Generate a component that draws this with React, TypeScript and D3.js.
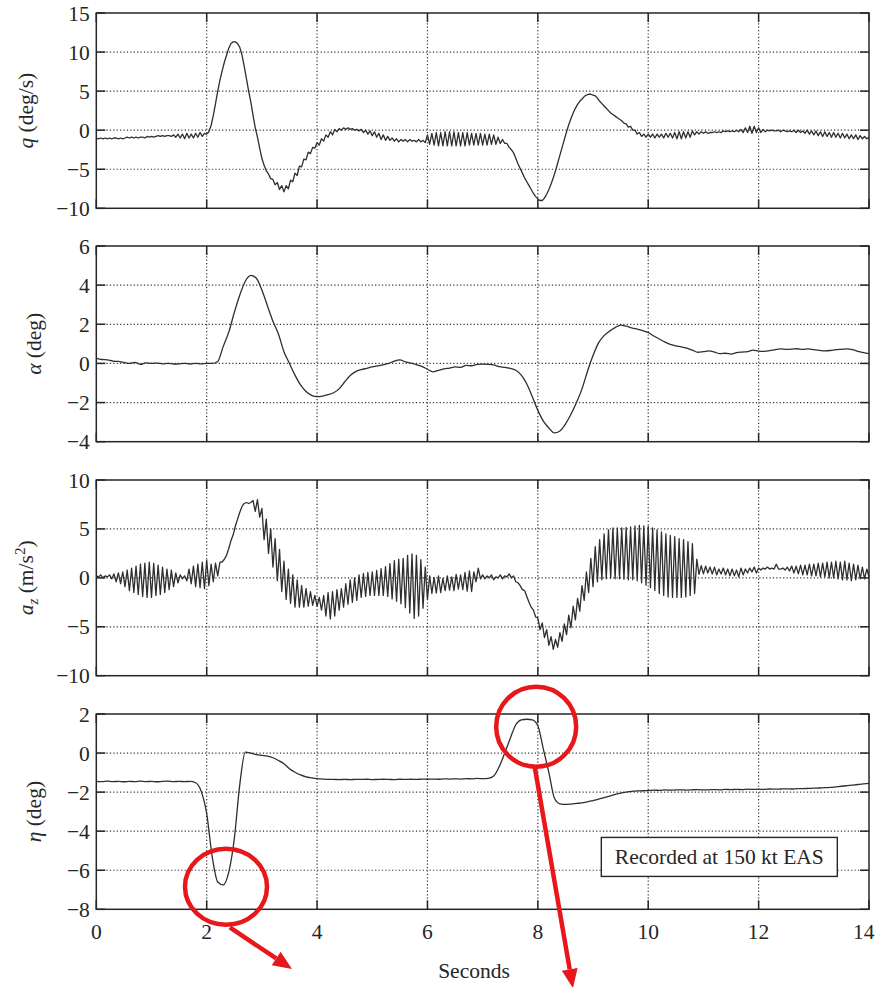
import React from "react";
import * as d3 from "d3";

// ---------------- DATA ----------------
const X_TICKS = [0, 2, 4, 6, 8, 10, 12, 14];
const Q_TICKS = [-10, -5, 0, 5, 10, 15];
const ALPHA_TICKS = [-4, -2, 0, 2, 4, 6];
const AZ_TICKS = [-10, -5, 0, 5, 10];
const ETA_TICKS = [-8, -6, -4, -2, 0, 2];

// q (deg/s): one row per second, 25 samples per row (every 0.04 s)
const Q_ROWS = [
  "-1.0 -1.1 -1.0 -1.1 -1.0 -1.1 -1.0 -1.1 -1.0 -1.0 -1.1 -1.0 -1.1 -1.0 -0.9 -1.0 -0.9 -1.0 -0.9 -1.0 -0.9 -0.9 -1.0 -0.8 -0.9",
  "-0.8 -0.9 -0.8 -0.7 -0.8 -0.7 -0.8 -0.7 -0.7 -0.8 -0.6 -0.9 -0.5 -1.0 -0.5 -1.1 -0.4 -1.0 -0.5 -1.0 -0.4 -0.9 -0.3 -0.8 -0.4",
  "-0.5 -0.2 0.6 1.9 3.4 5.0 6.4 7.6 8.7 9.6 10.5 11.1 11.3 11.3 11.1 10.6 9.6 8.2 6.6 5.0 3.6 1.9 0.3 -0.9 -2.3",
  "-3.6 -4.5 -5.2 -5.6 -6.2 -6.3 -7.0 -6.7 -7.6 -7.1 -7.9 -7.1 -7.5 -6.4 -6.6 -5.5 -5.8 -4.6 -4.7 -3.7 -3.8 -2.8 -3.0 -2.2 -2.3",
  "-1.6 -1.9 -1.1 -1.4 -0.6 -0.9 -0.2 -0.6 0.1 -0.2 0.2 0.0 0.3 0.1 0.3 0.1 0.2 0.0 0.1 -0.1 0.1 -0.3 0.0 -0.5 -0.1",
  "-0.7 -0.2 -0.9 -0.4 -1.2 -0.6 -1.3 -0.8 -1.3 -1.0 -1.4 -1.1 -1.5 -1.2 -1.4 -1.2 -1.5 -1.2 -1.4 -1.3 -1.5 -1.2 -1.5 -1.3 -1.6",
  "-0.6 -1.8 -0.4 -1.9 -0.3 -2.0 -0.3 -2.0 -0.2 -2.0 -0.2 -2.0 -0.2 -2.0 -0.3 -2.0 -0.3 -2.0 -0.3 -1.9 -0.4 -1.9 -0.4 -1.9 -0.4",
  "-1.9 -0.5 -1.9 -0.5 -1.8 -0.6 -1.8 -0.9 -1.7 -1.2 -1.7 -1.7 -2.2 -2.5 -2.9 -3.6 -4.3 -4.9 -5.5 -6.1 -6.6 -7.1 -7.6 -8.1 -8.5",
  "-8.8 -9.0 -9.0 -8.7 -8.2 -7.6 -6.9 -6.1 -5.2 -4.2 -3.2 -2.2 -1.2 -0.2 0.7 1.5 2.2 2.8 3.3 3.7 4.0 4.3 4.5 4.6 4.6",
  "4.5 4.4 4.1 3.7 3.4 3.1 2.8 2.5 2.2 2.0 1.8 1.6 1.4 1.2 0.9 0.8 0.4 0.5 0.0 0.0 -0.5 -0.3 -0.8 -0.5 -0.9",
  "-0.5 -0.9 -0.5 -1.0 -0.5 -0.9 -0.5 -1.0 -0.4 -0.9 -0.4 -1.0 -0.3 -1.1 -0.2 -1.1 -0.2 -1.0 -0.2 -0.9 -0.1 -0.6 -0.2 -0.5 -0.2",
  "-0.4 -0.2 -0.4 -0.3 -0.3 -0.2 -0.3 -0.2 -0.3 -0.1 -0.2 -0.1 -0.2 -0.1 -0.2 0.0 -0.2 0.1 -0.3 0.3 -0.3 0.5 -0.4 0.5 -0.3",
  "0.3 -0.3 0.1 -0.2 0.0 -0.1 0.0 -0.1 -0.1 0.0 -0.2 0.0 -0.1 -0.2 -0.1 -0.2 0.0 -0.3 0.0 -0.3 -0.1 -0.4 0.0 -0.5 -0.1",
  "-0.6 -0.1 -0.7 -0.2 -0.8 -0.2 -0.8 -0.3 -0.9 -0.3 -0.9 -0.4 -1.0 -0.4 -1.0 -0.5 -1.1 -0.6 -1.1 -0.6 -1.2 -0.7 -1.1 -0.8 -1.1",
];
const Q_END = -0.9;

// alpha (deg): one row per second, 10 samples per row (every 0.1 s)
const ALPHA_ROWS = [
  "0.26 0.2 0.18 0.12 0.1 0.05 0.0 0.05 -0.05 0.03",
  "0.0 0.02 -0.02 0.0 -0.03 -0.02 0.0 -0.03 0.0 -0.02",
  "0.0 0.0 0.1 0.87 1.6 2.6 3.5 4.2 4.5 4.35",
  "3.75 2.95 2.15 1.5 0.6 0.0 -0.6 -1.1 -1.43 -1.63",
  "-1.7 -1.67 -1.6 -1.5 -1.3 -0.95 -0.62 -0.42 -0.32 -0.25",
  "-0.18 -0.12 -0.07 0.0 0.12 0.18 0.08 0.02 -0.06 -0.15",
  "-0.3 -0.43 -0.35 -0.28 -0.24 -0.18 -0.2 -0.1 -0.12 -0.05",
  "-0.04 -0.05 -0.08 -0.16 -0.2 -0.25 -0.35 -0.6 -1.05 -1.7",
  "-2.4 -2.95 -3.3 -3.55 -3.45 -3.1 -2.6 -2.0 -1.3 -0.4",
  "0.4 1.05 1.42 1.65 1.83 1.96 1.9 1.82 1.75 1.68",
  "1.58 1.4 1.25 1.1 0.97 0.9 0.85 0.78 0.68 0.57",
  "0.6 0.64 0.58 0.5 0.52 0.48 0.55 0.58 0.6 0.68",
  "0.63 0.62 0.65 0.7 0.74 0.72 0.73 0.75 0.72 0.74",
  "0.7 0.67 0.64 0.66 0.7 0.72 0.74 0.7 0.62 0.55",
];
const ALPHA_END = 0.5;

// a_z (m/s^2): one row per second, 25 samples per row (every 0.04 s)
const AZ_ROWS = [
  "0.2 0.1 0.3 0.0 0.2 0.1 0.3 -0.1 0.4 -0.4 0.5 -0.6 0.6 -0.9 0.8 -1.3 1.0 -1.5 1.2 -1.7 1.4 -1.9 1.5 -2.0 1.6",
  "-2.0 1.5 -1.8 1.3 -1.7 1.1 -1.5 0.9 -1.2 0.8 -0.9 0.5 -0.5 0.3 -0.1 0.2 -0.3 0.9 -0.6 1.2 -0.9 1.4 -1.0 1.6 -1.1",
  "1.8 -0.8 1.4 -0.4 1.5 0.2 1.6 1.6 1.9 2.3 3.0 3.8 4.4 5.3 6.0 6.7 7.3 7.6 7.7 7.6 7.7 7.9 6.8 8.0 6.2",
  "7.1 3.9 6.0 2.5 5.0 1.1 4.0 -0.3 2.9 -1.4 1.7 -2.2 0.9 -2.6 0.3 -3.0 -0.2 -3.0 -0.8 -3.0 -1.1 -2.9 -1.4 -2.8 -1.8",
  "-2.9 -2.0 -3.3 -1.8 -3.9 -1.5 -4.2 -1.4 -3.9 -1.2 -3.3 -1.1 -3.0 -0.6 -2.7 -0.2 -2.5 0.0 -2.3 0.3 -2.0 0.45 -1.9 0.55 -1.8",
  "0.6 -1.8 0.75 -1.8 0.95 -1.8 1.15 -1.9 1.45 -2.15 1.75 -2.4 1.9 -2.65 2.0 -3.05 2.3 -3.6 2.45 -4.15 2.3 -3.9 1.85 -3.1 1.1",
  "-2.2 0.2 -1.6 0.05 -1.55 0.2 -1.5 -0.05 -1.3 0.2 -1.25 0.1 -1.3 0.35 -1.15 0.3 -1.2 0.55 -1.35 0.7 -1.4 0.6 -0.4 1.0 -0.1",
  "0.3 -0.1 0.2 0.0 0.3 -0.2 0.1 0.0 0.3 -0.1 0.2 0.1 0.4 0.0 0.2 -0.4 -0.5 -0.8 -1.2 -1.3 -1.9 -2.5 -3.0 -3.3 -4.0",
  "-4.1 -5.3 -4.6 -6.1 -5.3 -6.9 -6.0 -7.3 -6.3 -7.1 -5.6 -6.5 -4.7 -5.8 -3.8 -5.1 -2.9 -4.3 -2.1 -3.4 -0.8 -2.3 0.6 -1.5 2.0",
  "-0.9 3.2 -0.4 3.9 -0.2 4.5 -0.1 4.9 -0.05 5.1 -0.1 5.1 -0.1 5.1 -0.15 5.15 -0.2 5.2 -0.2 5.3 -0.3 5.35 -0.5 5.3 -0.75",
  "5.25 -1.0 5.1 -1.3 4.9 -1.6 4.7 -1.8 4.5 -1.95 4.35 -2.0 4.2 -2.0 4.0 -2.0 3.9 -1.95 3.7 -1.8 3.5 -1.6 1.9 0.35 1.25",
  "0.4 1.2 0.5 1.1 0.4 1.1 0.3 0.9 0.4 1.0 0.3 0.9 0.2 0.9 0.2 0.8 0.1 1.0 0.3 0.9 0.5 1.0 0.6 1.1 0.5",
  "1.0 0.8 1.0 0.9 1.1 0.9 1.0 0.9 1.4 0.9 0.9 1.0 0.8 1.1 0.7 1.2 0.5 1.2 0.4 1.3 0.3 1.3 0.3 1.4 0.2",
  "1.4 0.2 1.5 0.1 1.5 0.1 1.6 0.0 1.6 0.0 1.7 -0.1 1.6 -0.2 1.7 -0.2 1.5 -0.3 1.4 -0.2 1.3 -0.1 1.1 -0.1 0.9",
];
const AZ_END = 0.1;

// eta (deg): one row per second, 10 samples per row (every 0.1 s)
const ETA_ROWS = [
  "-1.45 -1.46 -1.44 -1.46 -1.45 -1.47 -1.45 -1.46 -1.44 -1.46",
  "-1.45 -1.47 -1.45 -1.44 -1.46 -1.45 -1.46 -1.45 -1.52 -1.95",
  "-3.1 -5.3 -6.6 -6.75 -6.1 -4.4 -1.6 0.05 0.0 -0.08",
  "-0.12 -0.16 -0.24 -0.38 -0.55 -0.8 -0.98 -1.12 -1.22 -1.27",
  "-1.31 -1.33 -1.35 -1.35 -1.36 -1.35 -1.36 -1.35 -1.35 -1.34",
  "-1.36 -1.35 -1.34 -1.35 -1.36 -1.34 -1.35 -1.34 -1.35 -1.33",
  "-1.34 -1.33 -1.34 -1.32 -1.33 -1.32 -1.33 -1.31 -1.32 -1.3",
  "-1.31 -1.3 -1.18 -0.7 0.0 0.75 1.45 1.7 1.73 1.7",
  "1.4 0.2 -1.0 -2.3 -2.6 -2.63 -2.61 -2.58 -2.55 -2.5",
  "-2.43 -2.36 -2.28 -2.2 -2.12 -2.05 -2.0 -1.96 -1.94 -1.93",
  "-1.92 -1.9 -1.91 -1.89 -1.9 -1.89 -1.88 -1.9 -1.88 -1.87",
  "-1.89 -1.88 -1.87 -1.88 -1.86 -1.87 -1.86 -1.87 -1.85 -1.86",
  "-1.85 -1.86 -1.84 -1.85 -1.84 -1.83 -1.84 -1.82 -1.82 -1.81",
  "-1.8 -1.79 -1.77 -1.76 -1.73 -1.7 -1.67 -1.64 -1.61 -1.58",
];
const ETA_END = -1.55;

const NOTE = "Recorded at 150 kt EAS";

// annotation marks in data units of the eta panel: [t, eta]
const CIRCLES = [
  { t: 2.35, v: -6.85, rx: 41, ry: 38 },
  { t: 7.97, v: 1.35, rx: 40, ry: 40 },
];
const ARROWS = [
  { from: [2.42, -8.93], to: [3.545, -11.06] },
  { from: [7.94, -0.65], to: [8.636, -12.04] },
];

// ---------------- HELPERS ----------------
function parseRows(rows: string[], end: number, perSec: number): [number, number][] {
  const pts: [number, number][] = [];
  rows.forEach((row, s) => {
    row
      .trim()
      .split(/\s+/)
      .map(Number)
      .forEach((v, j) => pts.push([s + j / perSec, v]));
  });
  pts.push([rows.length, end]);
  return pts;
}

const fmt = (v: number) => (v < 0 ? "\u2212" + Math.abs(v) : String(v));

const FONT = "'Liberation Serif', 'Times New Roman', serif";
const FS = 21.5;
const INK = "#262626";
const RED = "#e8171b";

const W = 876;
const H = 987;
const X0 = 96.3;
const X1 = 869;

const x = d3.scaleLinear().domain([0, 14]).range([X0, X1]);

type Panel = {
  key: string;
  top: number;
  bottom: number;
  domain: [number, number];
  ticks: number[];
  data: [number, number][];
  smooth: boolean;
  labelX: number;
  label: React.ReactNode;
};

export default function App() {
  const panels: Panel[] = [
    {
      key: "q",
      top: 13,
      bottom: 208.3,
      domain: [-10, 15],
      ticks: Q_TICKS,
      data: parseRows(Q_ROWS, Q_END, 25),
      smooth: false,
      labelX: 33,
      label: (
        <>
          <tspan fontStyle="italic">q</tspan>
          <tspan>{" (deg/s)"}</tspan>
        </>
      ),
    },
    {
      key: "alpha",
      top: 246,
      bottom: 441.7,
      domain: [-4, 6],
      ticks: ALPHA_TICKS,
      data: parseRows(ALPHA_ROWS, ALPHA_END, 10),
      smooth: true,
      labelX: 41,
      label: (
        <>
          <tspan fontStyle="italic">{"\u03b1"}</tspan>
          <tspan>{" (deg)"}</tspan>
        </>
      ),
    },
    {
      key: "az",
      top: 480,
      bottom: 675.7,
      domain: [-10, 10],
      ticks: AZ_TICKS,
      data: parseRows(AZ_ROWS, AZ_END, 25),
      smooth: false,
      labelX: 33,
      label: (
        <>
          <tspan fontStyle="italic">a</tspan>
          <tspan fontStyle="italic" fontSize={FS * 0.7} dy={5}>
            z
          </tspan>
          <tspan dy={-5}>{" (m/s"}</tspan>
          <tspan fontSize={FS * 0.7} dy={-8}>
            2
          </tspan>
          <tspan dy={8}>)</tspan>
        </>
      ),
    },
    {
      key: "eta",
      top: 714,
      bottom: 909.3,
      domain: [-8, 2],
      ticks: ETA_TICKS,
      data: parseRows(ETA_ROWS, ETA_END, 10),
      smooth: true,
      labelX: 41,
      label: (
        <>
          <tspan fontStyle="italic">{"\u03b7"}</tspan>
          <tspan>{" (deg)"}</tspan>
        </>
      ),
    },
  ];

  const TL = 9; // tick length
  const etaPanel = panels[3];
  const yEta = d3.scaleLinear().domain(etaPanel.domain).range([etaPanel.bottom, etaPanel.top]);

  return (
    <svg
      width={W}
      height={H}
      viewBox={`0 0 ${W} ${H}`}
      style={{ position: "absolute", left: 0, top: 0, background: "#fff" }}
      fontFamily={FONT}
    >
      <rect x={0} y={0} width={W} height={H} fill="#fff" />
      {panels.map((p, pi) => {
        const y = d3.scaleLinear().domain(p.domain).range([p.bottom, p.top]);
        const line = d3
          .line<[number, number]>()
          .x((d) => x(d[0]))
          .y((d) => y(d[1]))
          .curve(p.smooth ? d3.curveMonotoneX : d3.curveLinear);
        const isLast = pi === panels.length - 1;
        const cy = (p.top + p.bottom) / 2;
        return (
          <g key={p.key}>
            {/* grid */}
            {X_TICKS.slice(1, -1).map((t) => (
              <line
                key={"gx" + t}
                x1={x(t)}
                x2={x(t)}
                y1={p.top}
                y2={p.bottom}
                stroke="#333"
                strokeWidth={1.2}
                strokeDasharray="1.2 2.2"
              />
            ))}
            {p.ticks.slice(1, -1).map((v) => (
              <line
                key={"gy" + v}
                x1={X0}
                x2={X1}
                y1={y(v)}
                y2={y(v)}
                stroke="#333"
                strokeWidth={1.2}
                strokeDasharray="1.2 2.2"
              />
            ))}
            {/* ticks */}
            {X_TICKS.map((t) => (
              <g key={"tx" + t}>
                <line x1={x(t)} x2={x(t)} y1={p.top} y2={p.top + TL} stroke={INK} strokeWidth={1.5} />
                <line x1={x(t)} x2={x(t)} y1={p.bottom} y2={p.bottom - TL} stroke={INK} strokeWidth={1.5} />
              </g>
            ))}
            {p.ticks.map((v) => (
              <g key={"ty" + v}>
                <line x1={X0} x2={X0 + TL} y1={y(v)} y2={y(v)} stroke={INK} strokeWidth={1.5} />
                <line x1={X1} x2={X1 - TL} y1={y(v)} y2={y(v)} stroke={INK} strokeWidth={1.5} />
                <text
                  x={X0 - 6.5}
                  y={y(v)}
                  dy="0.35em"
                  textAnchor="end"
                  fontSize={FS}
                  fill={INK}
                >
                  {fmt(v)}
                </text>
              </g>
            ))}
            {/* data */}
            <path d={line(p.data) || ""} fill="none" stroke="#2e2e2e" strokeWidth={1.3} strokeLinejoin="round" />
            {/* frame */}
            <rect
              x={X0}
              y={p.top}
              width={X1 - X0}
              height={p.bottom - p.top}
              fill="none"
              stroke={INK}
              strokeWidth={1.5}
            />
            {/* y label */}
            <text
              transform={`translate(${p.labelX},${cy}) rotate(-90)`}
              textAnchor="middle"
              fontSize={FS}
              fill={INK}
            >
              {p.label}
            </text>
            {isLast &&
              X_TICKS.map((t, i) => {
                const last = i === X_TICKS.length - 1;
                return (
                  <text
                    key={"xl" + t}
                    x={last ? W - 1.5 : x(t)}
                    y={p.bottom + 30}
                    textAnchor={last ? "end" : "middle"}
                    fontSize={FS}
                    fill={INK}
                  >
                    {t}
                  </text>
                );
              })}
          </g>
        );
      })}

      {/* x axis title */}
      <text x={474} y={978} textAnchor="middle" fontSize={FS} fill={INK}>
        Seconds
      </text>

      {/* note box */}
      <g>
        <rect x={x(9.15)} y={yEta(-4.32)} width={236} height={39} fill="#fff" stroke={INK} strokeWidth={1.4} />
        <text x={x(9.15) + 118} y={yEta(-4.32) + 26.5} textAnchor="middle" fontSize={FS} fill={INK}>
          {NOTE}
        </text>
      </g>

      {/* red annotations */}
      {CIRCLES.map((c, i) => (
        <ellipse
          key={"c" + i}
          cx={x(c.t)}
          cy={yEta(c.v)}
          rx={c.rx}
          ry={c.ry}
          fill="none"
          stroke={RED}
          strokeWidth={4.5}
        />
      ))}
      {ARROWS.map((a, i) => {
        const x1 = x(a.from[0]);
        const y1 = yEta(a.from[1]);
        const x2 = x(a.to[0]);
        const y2 = yEta(a.to[1]);
        const ang = Math.atan2(y2 - y1, x2 - x1);
        const hl = 19;
        const hw = 8;
        const bx = x2 - hl * Math.cos(ang);
        const by = y2 - hl * Math.sin(ang);
        const px = -Math.sin(ang) * hw;
        const py = Math.cos(ang) * hw;
        return (
          <g key={"a" + i}>
            <line x1={x1} y1={y1} x2={bx} y2={by} stroke={RED} strokeWidth={4.5} />
            <polygon points={`${x2},${y2} ${bx + px},${by + py} ${bx - px},${by - py}`} fill={RED} />
          </g>
        );
      })}
    </svg>
  );
}
